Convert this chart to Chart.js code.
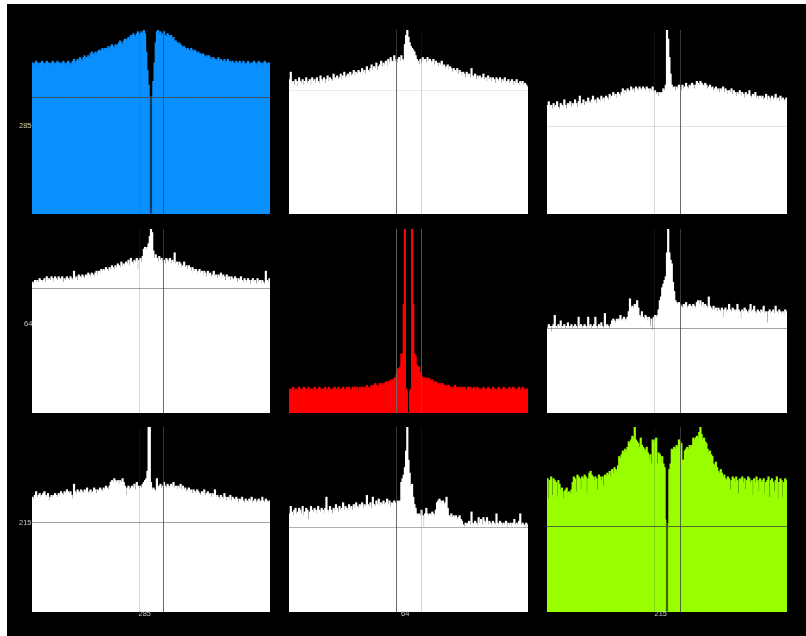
<!DOCTYPE html>
<html>
<head>
<meta charset="utf-8">
<title>Correlograms 285 / 64 / 215</title>
<script src="https://cdn.jsdelivr.net/npm/chart.js@4.4.0/dist/chart.umd.min.js"></script>
<style>
  html, body { margin: 0; padding: 0; background: #fff; overflow: hidden; }
  #stage { position: absolute; left: 7px; top: 4px; width: 799px; height: 632px; background: #000; }
  canvas.panel { position: absolute; display: block; }
  .lbl { position: absolute; font: 7.5px "Liberation Sans", Arial, sans-serif; color: #c8c8c8; white-space: nowrap; line-height: 8px; }
</style>
</head>
<body>
<div id="stage"></div>
<script>
// Cluster ids (row / column order of the correlogram matrix)
const CLUSTERS = ['285', '64', '215'];

// Lag axis: 201 bins, bin 100 is zero lag
const NBINS = 201;
const CENTER = 100;
const LAGS = Array.from({ length: NBINS }, (_, i) => i - CENTER);

// Refractory-window markers, in bins relative to zero lag
const REFRACTORY = [-10.5, 10.5];

// Normalised bin heights (peak of each panel = 100)
const acg285 = [
  82,81,82,83,82,81,82,82,83,82,81,82,83,82,82,81,82,83,82,81,
  82,83,82,82,81,82,83,82,81,82,83,82,81,82,83,84,82,83,84,83,
  85,84,83,85,86,84,85,86,85,87,88,87,86,88,87,88,89,88,89,90,
  89,90,89,90,91,90,91,92,91,90,92,91,92,93,94,93,92,94,95,94,
  95,96,95,97,96,98,97,96,98,99,97,98,99,98,100,98,88,78,70,64,
  0,
  64,72,82,93,99,100,98,99,97,98,99,97,96,98,97,96,97,95,96,94,
  94,93,92,93,92,91,90,91,90,89,90,89,88,90,89,88,89,88,87,88,
  87,87,86,87,86,85,86,85,86,84,85,84,85,84,83,84,85,83,84,83,
  83,84,82,83,84,82,83,82,83,82,81,83,82,82,83,81,82,83,82,81,
  82,83,82,81,82,82,83,82,81,82,83,82,82,81,82,83,82,81,82,82
];
const ccg285_64 = [
  73,77,71,72,70,73,72,69,74,72,71,73,70,72,74,71,72,73,70,74,
  72,73,71,74,72,71,75,73,72,74,71,73,75,72,74,73,72,76,74,73,
  75,73,74,76,73,75,77,74,75,76,74,77,75,76,78,75,77,76,78,77,
  76,79,77,78,76,80,78,77,79,81,78,80,79,82,78,80,81,83,80,82,
  81,83,80,84,82,85,83,82,86,83,84,82,85,83,86,84,83,92,97,100,
  96,93,91,90,89,88,86,84,83,81,84,82,85,83,84,82,85,83,84,82,
  83,84,81,83,82,80,82,81,83,80,81,79,80,81,78,80,79,77,79,78,
  77,79,76,78,77,75,77,76,74,77,75,76,74,79,75,74,76,73,75,74,
  75,73,74,76,73,74,72,75,73,74,72,74,73,71,74,73,72,74,71,73,
  72,74,71,72,73,71,72,73,70,72,71,73,71,70,72,71,72,70,71,70,
  69
];
const ccg285_215 = [
  59,61,58,59,57,60,58,59,61,58,57,60,59,58,62,59,57,60,59,61,
  58,60,59,62,60,58,61,64,59,60,62,59,61,60,63,61,60,62,64,61,
  62,60,63,62,61,64,62,63,61,64,63,62,65,63,64,66,64,65,63,66,
  65,64,66,68,65,67,66,68,67,66,69,67,68,66,69,68,67,69,68,67,
  69,68,67,69,68,66,68,67,69,66,67,65,66,64,66,65,66,68,67,70,
  100,95,85,76,70,68,69,67,69,68,70,69,67,70,68,69,71,69,68,70,
  69,71,70,68,70,72,71,70,72,71,70,69,71,70,68,69,70,68,69,67,
  68,69,67,68,66,68,67,69,66,68,67,65,67,66,68,65,67,66,64,66,
  65,67,64,66,65,63,66,64,65,67,64,63,65,64,66,63,64,62,64,63,
  64,62,63,65,62,64,63,61,64,62,63,65,62,63,61,64,62,63,61,62,
  63
];
const ccg64_285 = [
  71,70,72,71,72,71,73,72,71,72,73,71,74,72,73,72,74,73,71,74,
  73,72,74,73,72,74,71,73,72,74,73,72,74,73,72,77,73,74,72,75,
  74,73,75,74,73,75,74,76,75,74,76,75,74,76,77,75,77,76,78,77,
  78,77,79,78,77,79,78,80,79,78,80,79,81,80,79,82,80,81,80,82,
  81,83,80,84,82,81,83,82,84,78,83,84,82,85,89,90,89,90,92,96,
  100,98,88,84,86,84,82,85,83,84,82,83,81,84,83,82,84,81,83,82,
  87,81,82,80,82,81,79,80,82,79,80,78,80,79,77,79,78,77,78,76,
  77,78,76,77,75,77,76,74,77,75,76,74,75,77,74,75,73,75,74,76,
  73,75,74,72,75,73,74,72,74,73,72,74,73,71,73,72,74,72,71,73,
  72,71,73,72,70,72,73,71,72,70,73,71,72,70,72,71,70,77,72,71,
  73
];
const acg64 = [
  13,12,13,14,12,13,13,12,14,13,12,13,14,13,12,13,14,12,13,13,
  12,14,13,12,13,14,13,12,13,13,14,12,13,14,13,12,13,13,14,12,
  13,14,12,13,13,14,13,12,14,13,14,13,12,14,13,14,13,14,12,14,
  13,14,14,13,14,15,14,13,14,15,14,15,16,15,14,15,16,15,16,15,
  16,17,16,17,17,18,17,18,19,19,21,24,24,25,32,32,59,100,13,12,
  0,
  12,13,100,59,32,31,26,25,25,22,20,19,19,18,19,18,19,18,17,18,
  17,16,17,16,16,15,16,15,16,15,14,15,14,15,14,14,13,14,15,14,
  13,14,14,13,14,13,14,13,12,14,13,14,13,13,14,12,13,14,13,13,
  12,13,14,13,12,13,14,13,13,12,14,13,13,12,13,14,13,12,13,14,
  13,12,13,13,14,12,13,14,13,12,13,13,14,12,13,14,13,12,13,13
];
const ccg64_215 = [
  46,48,47,44,47,48,53,47,46,48,47,50,46,47,48,46,47,49,46,47,
  48,46,47,48,47,46,52,47,48,46,47,48,47,46,52,47,48,46,47,48,
  52,47,46,48,47,49,47,46,54,47,48,47,46,48,50,51,50,49,51,50,
  51,53,50,51,52,50,51,52,55,62,57,58,57,59,58,61,57,53,52,55,
  52,51,53,52,50,52,47,51,45,52,53,52,53,56,61,63,68,70,72,74,
  87,100,87,83,81,71,66,61,60,59,60,59,58,57,59,58,60,57,58,59,
  58,57,59,58,57,60,61,59,61,58,60,57,59,58,57,63,58,57,56,58,
  56,57,55,57,56,55,57,52,56,57,55,56,59,56,55,57,56,55,56,59,
  56,55,51,56,55,57,56,55,54,56,59,55,56,58,55,54,56,55,54,56,
  55,58,54,55,49,55,56,54,55,56,54,58,55,54,56,55,54,55,53,56,
  55
];
const ccg215_285 = [
  62,61,63,65,62,63,64,62,63,64,65,63,62,64,60,62,63,62,63,64,
  63,62,64,63,65,64,63,65,64,66,65,64,65,63,61,69,65,64,66,65,
  64,66,65,64,66,65,67,64,65,66,64,65,67,66,64,66,65,67,66,65,
  67,66,68,67,66,68,70,71,70,72,71,70,71,69,71,70,72,70,68,63,
  67,68,66,67,68,67,69,66,70,68,67,68,67,69,70,71,72,76,100,100,
  70,66,67,66,65,72,67,68,69,67,68,70,68,67,69,68,67,69,68,70,
  67,68,66,68,67,69,66,68,66,67,65,66,67,65,66,64,66,65,64,66,
  65,64,63,65,64,66,63,64,65,63,64,62,64,63,66,62,63,62,61,63,
  62,61,64,62,60,62,61,63,60,62,61,60,62,61,59,61,60,62,60,59,
  61,60,59,61,60,62,59,60,61,59,60,61,59,60,62,60,59,61,60,59,
  60
];
const ccg215_64 = [
  53,57,54,52,55,56,53,54,56,55,53,57,52,54,56,55,50,54,57,55,
  54,56,55,53,57,55,54,56,55,53,56,62,55,54,57,55,53,56,55,58,
  56,54,57,55,56,59,55,57,56,55,58,56,57,55,58,56,59,57,56,58,
  57,59,56,58,57,63,58,57,59,56,62,58,57,60,58,61,57,59,58,60,
  58,59,61,58,60,57,59,58,60,59,58,60,59,60,70,72,74,78,87,100,
  82,75,68,69,62,58,56,53,52,53,52,55,52,46,53,56,53,52,53,52,
  54,53,52,55,59,60,61,60,59,60,58,59,62,56,52,51,53,51,52,51,
  52,50,51,52,50,49,47,46,48,47,48,49,47,54,48,47,49,48,47,51,
  48,50,47,51,49,48,51,47,49,48,47,49,48,47,53,48,47,49,48,47,
  48,47,49,46,48,47,48,46,48,50,47,48,47,49,53,47,48,47,45,48,
  47
];
const acg215 = [
  72,61,71,73,63,72,71,70,62,71,69,66,67,61,65,66,67,64,65,64,
  66,70,73,72,65,74,73,72,66,73,72,74,73,64,72,75,76,74,73,71,
  73,72,66,74,73,71,73,68,74,73,75,74,76,73,77,75,78,77,76,79,
  84,83,85,87,86,88,87,89,92,91,93,95,94,100,93,92,91,89,94,90,
  89,88,87,89,86,82,85,80,93,92,93,94,80,86,85,81,84,80,78,50,
  0,
  48,77,80,88,87,89,88,90,89,93,92,91,82,82,87,88,89,88,90,89,
  90,94,93,94,95,94,97,100,96,93,94,92,91,88,86,87,85,84,80,79,
  81,78,76,75,77,75,73,74,72,71,73,72,66,71,73,72,70,73,71,64,
  72,71,73,70,72,66,71,73,72,70,71,63,72,70,73,71,65,72,70,71,
  72,64,70,71,73,62,71,72,70,65,71,73,61,70,72,71,62,70,72,71
];

// Mean-rate baseline of each panel (same units), null where none is drawn
const BASELINES = [
  [63.8, 67.4, 48.0],
  [67.8, null, 46.0],
  [48.5, 46.0, 46.6]
];

// Matrix of series, row = reference cluster, column = target cluster
const SERIES = [
  [acg285, ccg285_64, ccg285_215],
  [ccg64_285, acg64, ccg64_215],
  [ccg215_285, ccg215_64, acg215]
];

// ---- layout and styling ----
const COL_LEFT = [32, 289, 547];
const COL_WIDTH = [238, 239, 240];
const ROW_TOP = [30, 229, 427];
const ROW_HEIGHT = [184, 184, 185];
const CLUSTER_COLOR = { 0: '#0a90ff', 1: '#ff0000', 2: '#99ff00' };
const DARK_LINE = 'rgba(70,70,70,0.8)';
const LIGHT_LINE = 'rgba(70,70,70,0.22)';
const MID_LINE = 'rgba(70,70,70,0.5)';
// vertical marker shades [left, right] per column, baseline shade per panel
const V_SHADES = [[LIGHT_LINE, DARK_LINE], [DARK_LINE, LIGHT_LINE], [LIGHT_LINE, DARK_LINE]];
const H_SHADES = [
  [DARK_LINE, 'rgba(70,70,70,0.1)', 'rgba(70,70,70,0.15)'],
  [MID_LINE, null, MID_LINE],
  [MID_LINE, 'rgba(70,70,70,0.42)', DARK_LINE]
];

// Bars overlap slightly so adjacent bins show no seams; bins next to an
// empty bin are kept at their true width so the empty bin stays visible.
function binInflate(ctx) {
  const d = ctx.dataset.data;
  const i = ctx.dataIndex;
  if (i === undefined) return 0.5;
  if (d[i - 1] === 0 || d[i + 1] === 0) return 0;
  return 0.5;
}

// Draws the refractory markers and the baseline over the bars
const markerLines = {
  id: 'markerLines',
  afterDatasetsDraw(chart, args, opts) {
    const { ctx, chartArea: a, scales: { x, y } } = chart;
    ctx.save();
    ctx.lineWidth = 1;
    REFRACTORY.forEach((lag, k) => {
      const px = Math.round(x.getPixelForValue(lag + CENTER)) + 0.5;
      ctx.strokeStyle = opts.vColors[k];
      ctx.beginPath();
      ctx.moveTo(px, a.top);
      ctx.lineTo(px, a.bottom);
      ctx.stroke();
    });
    if (opts.baseline != null && opts.hColor) {
      const py = Math.round(y.getPixelForValue(opts.baseline)) + 0.5;
      ctx.strokeStyle = opts.hColor;
      ctx.beginPath();
      ctx.moveTo(a.left, py);
      ctx.lineTo(a.right, py);
      ctx.stroke();
    }
    ctx.restore();
  }
};

function addLabel(text, css) {
  const el = document.createElement('div');
  el.className = 'lbl';
  el.textContent = text;
  Object.assign(el.style, css);
  document.body.appendChild(el);
  return el;
}

for (let r = 0; r < 3; r++) {
  for (let c = 0; c < 3; c++) {
    const cv = document.createElement('canvas');
    cv.className = 'panel';
    cv.width = COL_WIDTH[c];
    cv.height = ROW_HEIGHT[r];
    cv.style.left = COL_LEFT[c] + 'px';
    cv.style.top = ROW_TOP[r] + 'px';
    cv.style.width = COL_WIDTH[c] + 'px';
    cv.style.height = ROW_HEIGHT[r] + 'px';
    document.body.appendChild(cv);

    const color = r === c ? CLUSTER_COLOR[r] : '#ffffff';
    new Chart(cv, {
      type: 'bar',
      data: {
        labels: LAGS,
        datasets: [{
          data: SERIES[r][c],
          backgroundColor: color,
          borderWidth: 0,
          barPercentage: 1,
          categoryPercentage: 1,
          inflateAmount: binInflate
        }]
      },
      options: {
        responsive: false,
        animation: false,
        events: [],
        devicePixelRatio: 1,
        layout: { padding: 0 },
        plugins: {
          legend: { display: false },
          tooltip: { enabled: false },
          markerLines: {
            vColors: r === 1 && c === 1 ? ['rgba(110,110,110,0.85)', 'rgba(95,95,95,0.85)'] : V_SHADES[c],
            baseline: BASELINES[r][c],
            hColor: H_SHADES[r][c]
          }
        },
        scales: {
          x: { display: false, grid: { display: false } },
          y: { display: false, min: 0, max: 100, grid: { display: false } }
        }
      },
      plugins: [markerLines]
    });
  }
}

// Row labels, right-aligned at the left edge of the first column
const ROW_LABEL_Y = [125.5, 324, 523];
CLUSTERS.forEach((name, r) => {
  const el = addLabel(name, { top: (ROW_LABEL_Y[r] - 4) + 'px' });
  el.style.left = (COL_LEFT[0] - el.offsetWidth) + 'px';
});
// Column labels under the bottom row, ending at the zero-lag position
CLUSTERS.forEach((name, c) => {
  const el = addLabel(name, { top: '610px' });
  const mid = COL_LEFT[c] + COL_WIDTH[c] / 2;
  el.style.left = (mid - el.offsetWidth + 0.5) + 'px';
});
</script>
</body>
</html>
